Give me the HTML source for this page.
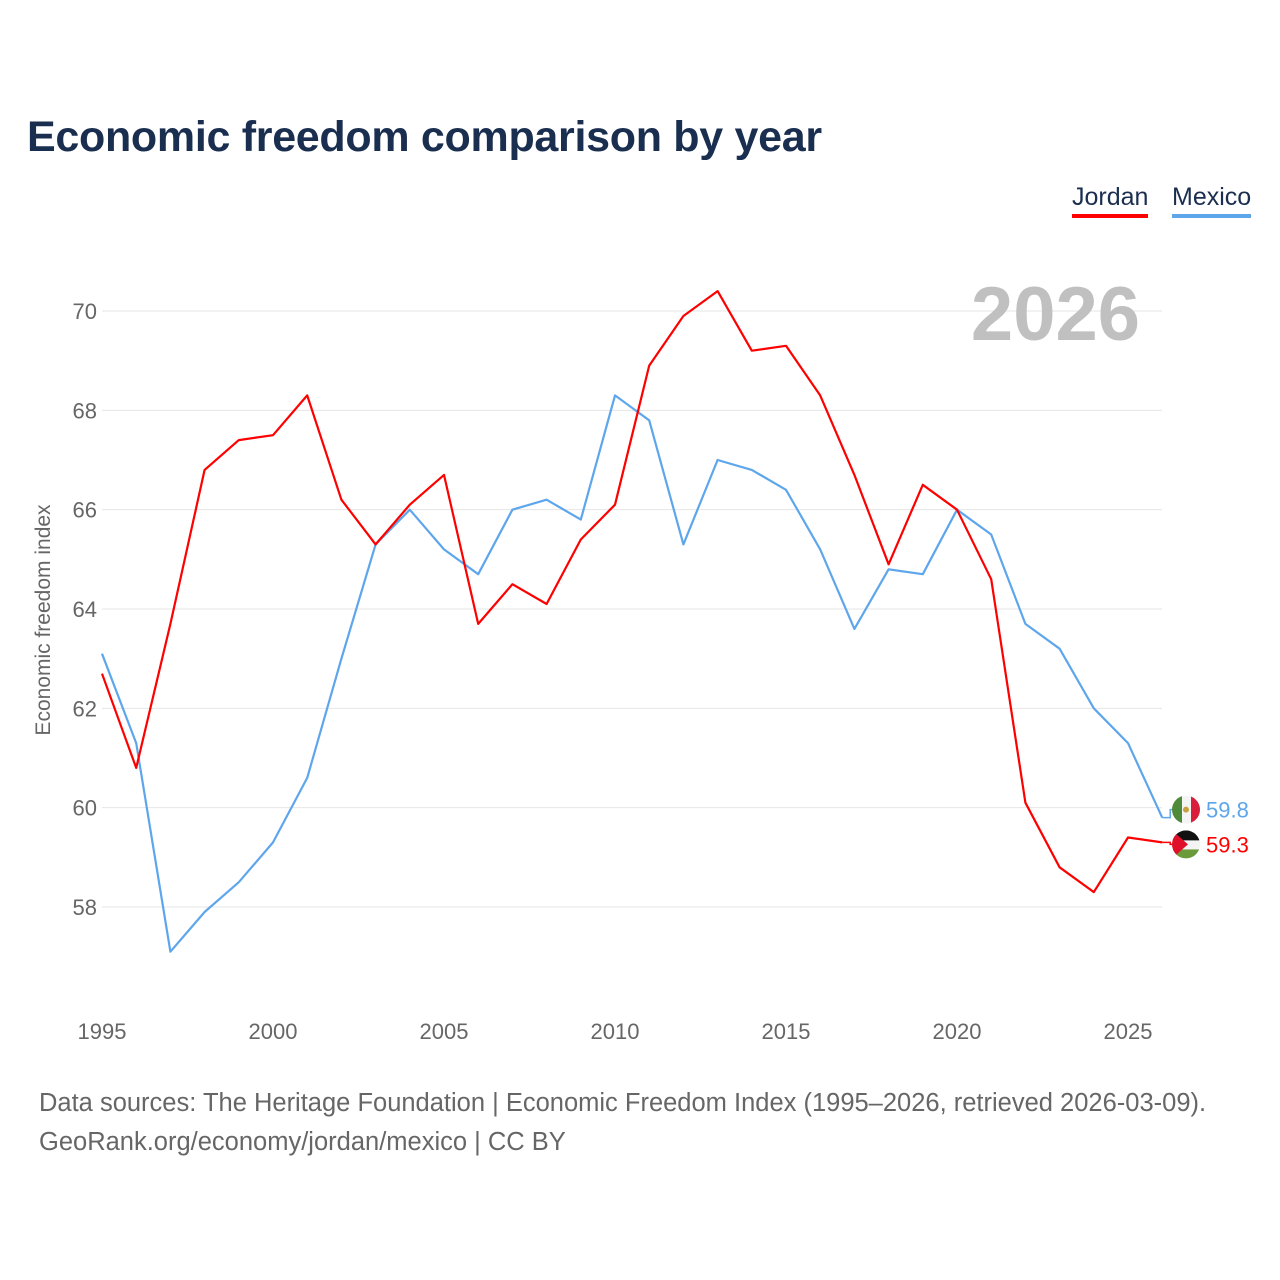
<!DOCTYPE html>
<html><head><meta charset="utf-8">
<style>
html,body{margin:0;padding:0;background:#fff;}
body{width:1280px;height:1280px;position:relative;font-family:"Liberation Sans",sans-serif;overflow:hidden;}
#title{position:absolute;left:27px;top:113px;font-size:43px;font-weight:bold;color:#1a2e4f;letter-spacing:-0.3px;}
.leg{position:absolute;top:183px;font-size:25px;color:#1a2e4f;padding-bottom:2px;}
#foot{position:absolute;left:39px;top:1084px;font-size:25.5px;color:#666;line-height:39px;}
</style></head><body>
<div id="title">Economic freedom comparison by year</div>
<div class="leg" style="left:1072px;border-bottom:4px solid #f00">Jordan</div>
<div class="leg" style="left:1172px;border-bottom:4px solid #5ea6ec">Mexico</div>
<svg id="chart" width="1280" height="1280" style="position:absolute;left:0;top:0"></svg>
<div id="foot">Data sources: The Heritage Foundation | Economic Freedom Index (1995–2026, retrieved 2026-03-09).<br>GeoRank.org/economy/jordan/mexico | CC BY</div>
<script>
const years = [1995,1996,1997,1998,1999,2000,2001,2002,2003,2004,2005,2006,2007,2008,2009,2010,2011,2012,2013,2014,2015,2016,2017,2018,2019,2020,2021,2022,2023,2024,2025,2026];
const jordan = [62.7,60.8,63.7,66.8,67.4,67.5,68.3,66.2,65.3,66.1,66.7,63.7,64.5,64.1,65.4,66.1,68.9,69.9,70.4,69.2,69.3,68.3,66.7,64.9,66.5,66.0,64.6,60.1,58.8,58.3,59.4,59.3];
const mexico = [63.1,61.3,57.1,57.9,58.5,59.3,60.6,63.0,65.3,66.0,65.2,64.7,66.0,66.2,65.8,68.3,67.8,65.3,67.0,66.8,66.4,65.2,63.6,64.8,64.7,66.0,65.5,63.7,63.2,62.0,61.3,59.8];
const yTicks = [58,60,62,64,66,68,70];
const xTicks = [1995,2000,2005,2010,2015,2020,2025];

const NS="http://www.w3.org/2000/svg";
const svg=document.getElementById('chart');
const xS=y=>102+(y-1995)*(1026/30);
const yS=v=>311+(70-v)*(596/12);
function mk(tag,attrs,parent){const e=document.createElementNS(NS,tag);for(const k in attrs)e.setAttribute(k,attrs[k]);(parent||svg).appendChild(e);return e;}

yTicks.forEach(t=>{
  const g=mk('line',{x1:102,x2:1162,y1:yS(t),y2:yS(t),stroke:'#e6e6e6','stroke-width':1});
  
  
  const l=mk('text',{x:97,y:yS(t)+8,'text-anchor':'end','font-size':22,fill:'#666','font-family':'Liberation Sans, sans-serif'});
  l.textContent=t;
  
  
});
xTicks.forEach(t=>{
  const l=mk('text',{x:xS(t),y:1039,'text-anchor':'middle','font-size':22,fill:'#666','font-family':'Liberation Sans, sans-serif'});
  l.textContent=t;
  
  
});
const yt=mk('text',{transform:'translate(50,620) rotate(-90)','text-anchor':'middle','font-size':21,fill:'#666','font-family':'Liberation Sans, sans-serif'});
yt.textContent='Economic freedom index';


const yr=mk('text',{x:1140,y:340,'text-anchor':'end','font-size':76,'font-weight':'bold',fill:'#c0c0c0','font-family':'Liberation Sans, sans-serif'});
yr.textContent='2026';



function series(vals,color,name){
  const d=vals.map((v,i)=>(i?'L':'M')+xS(years[i]).toFixed(1)+','+yS(v).toFixed(1)).join(' ');
  const p=mk('path',{d:d,fill:'none',stroke:color,'stroke-width':2.2,'stroke-linejoin':'round'});
  
  
}
series(mexico,'#5ea6ec','mexico');
series(jordan,'#f00','jordan');

function endLabel(vals,color,name,yOff,flag){
  const v=vals[vals.length-1], x=xS(years[years.length-1]), y=yS(v)+yOff;
  mk('path',{d:`M${x},${yS(v)} L${x+8},${yS(v)} L${x+8},${y} L${x+14},${y}`,fill:'none',stroke:color,'stroke-width':1.5});
  const g=mk('g',{});
  
  
  const cx=1186, r=14;
  const clip=mk('clipPath',{id:'c'+name},g);
  mk('circle',{cx:cx,cy:y,r:r},clip);
  const inner=mk('g',{'clip-path':`url(#c${name})`},g);
  if(flag==='mx'){
    mk('rect',{x:cx-r,y:y-r,width:10,height:2*r,fill:'#4f8a3a'},inner);
    mk('rect',{x:cx-r+10,y:y-r,width:9,height:2*r,fill:'#f4f4f4'},inner);
    mk('rect',{x:cx-r+19,y:y-r,width:10,height:2*r,fill:'#d81e3a'},inner);
    mk('circle',{cx:cx,cy:y,r:3,fill:'#c8a040'},inner);
  }else{
    mk('rect',{x:cx-r,y:y-r,width:2*r,height:10,fill:'#111'},inner);
    mk('rect',{x:cx-r,y:y-r+10,width:2*r,height:9,fill:'#f4f4f4'},inner);
    mk('rect',{x:cx-r,y:y-r+19,width:2*r,height:10,fill:'#6a9a3a'},inner);
    mk('path',{d:`M${cx-r},${y-r} L${cx+2},${y} L${cx-r},${y+r} Z`,fill:'#e0102a'},inner);
  }
  const t=mk('text',{x:1206,y:y+8,'font-size':22,fill:color,'font-family':'Liberation Sans, sans-serif'});
  t.textContent=v.toFixed(1);
  
  
}
endLabel(mexico,'#5ea6ec','mexico',-8,'mx');
endLabel(jordan,'#f00','jordan',2,'jo');
</script>
</body></html>
